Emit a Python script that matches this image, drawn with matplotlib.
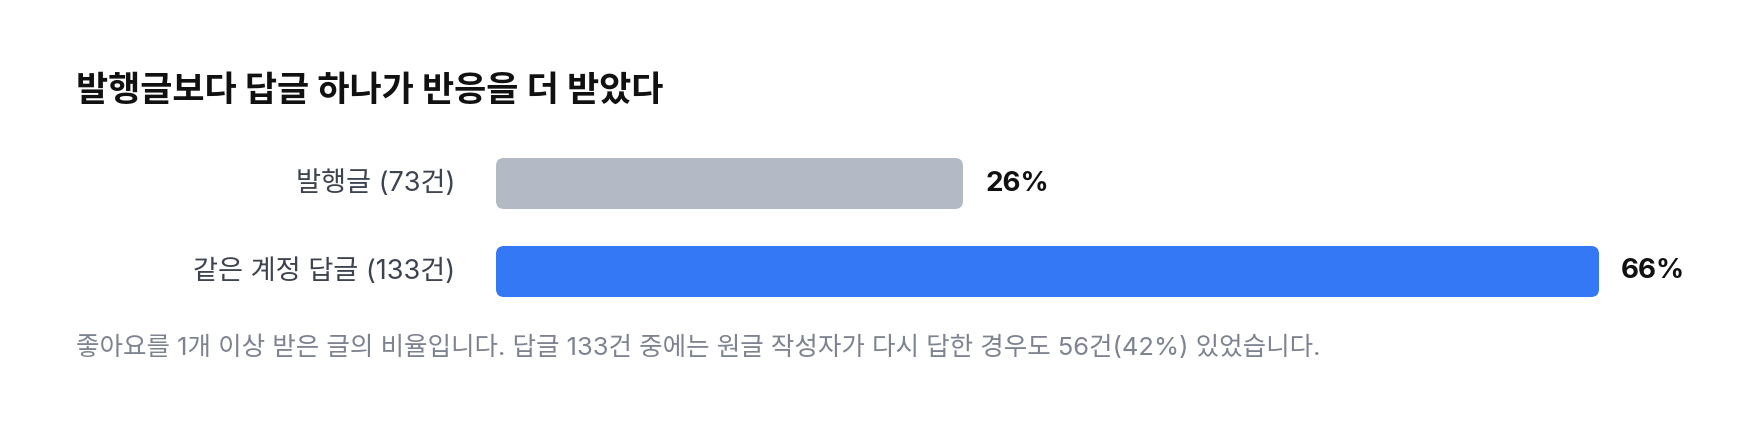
import matplotlib
matplotlib.use("Agg")
import matplotlib.pyplot as plt
from matplotlib.patches import FancyBboxPatch
from matplotlib.transforms import IdentityTransform

# ---- data ----
categories = ["발행글 (73건)", "같은 계정 답글 (133건)"]
values = [26, 66]
value_labels = ["26%", "66%"]
bar_colors = ["#b3bac5", "#3478f6"]
title = "발행글보다 답글 하나가 반응을 더 받았다"
footnote = ("좋아요를 1개 이상 받은 글의 비율입니다. 답글 133건 중에는 원글 작성자가 "
            "다시 답한 경우도 56건(42%) 있었습니다.")

FAM = ["Inter", "Noto Sans CJK KR", "DejaVu Sans"]
plt.rcParams["font.family"] = FAM

W, H, DPI = 1760, 432, 100
fig = plt.figure(figsize=(W / DPI, H / DPI), dpi=DPI)
fig.patch.set_facecolor("white")

# axes area in pixels
ax_left, ax_right = 496, 1599
ax_top, ax_bot = 139.5, 315.5
ax = fig.add_axes([ax_left / W, (H - ax_bot) / H, (ax_right - ax_left) / W, (ax_bot - ax_top) / H])
origin = -3.37
ax.set_xlim(origin, 66)
ax.set_ylim(len(categories) - 0.5, -0.5)
ax.axis("off")

bar_h = 0.58
for i, (v, c) in enumerate(zip(values, bar_colors)):
    (x0, y0) = ax.transData.transform((origin, i + bar_h / 2))
    (x1, y1) = ax.transData.transform((v, i - bar_h / 2))
    p = FancyBboxPatch((x0, y0), x1 - x0, y1 - y0,
                       boxstyle="round,pad=0,rounding_size=8",
                       facecolor=c, edgecolor="none",
                       transform=IdentityTransform(), clip_on=False)
    ax.add_patch(p)
    ax.annotate(value_labels[i], xy=(v, i), xytext=(16, 0), textcoords="offset points",
                ha="left", va="center", fontsize=20, fontweight="bold",
                color="#111111", family=FAM)
    ax.annotate(categories[i], xy=(origin, i), xytext=(-29.5, 0), textcoords="offset points",
                ha="right", va="center", fontsize=19.6, color="#3d4450", family=FAM,
                annotation_clip=False)

fig.text(76 / W, (H - 91) / H, title, ha="left", va="center", fontsize=25.2,
         fontweight="bold", color="#111111", family=FAM)
fig.text(76 / W, (H - 348) / H, footnote, ha="left", va="center", fontsize=18.4,
         color="#7d8390", family=FAM)

fig.savefig("out.png", dpi=DPI, facecolor="white")
